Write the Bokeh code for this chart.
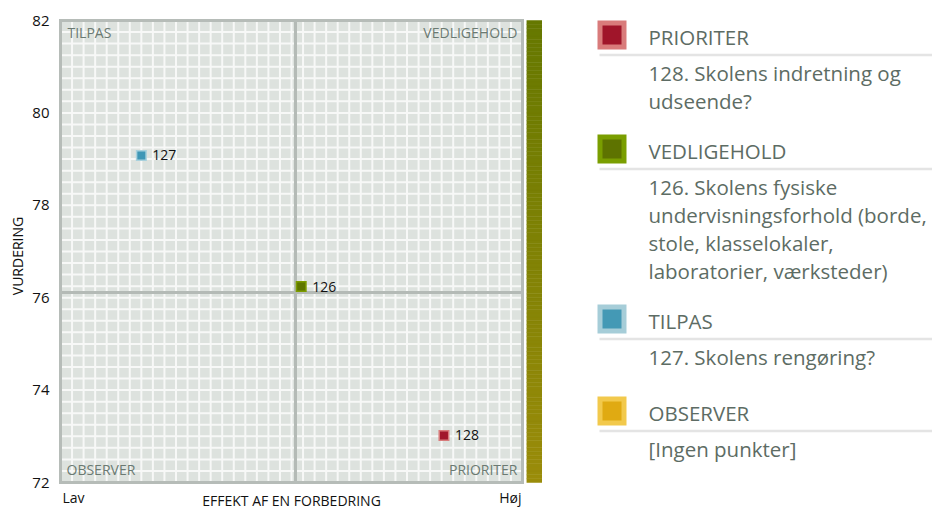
import numpy as np
from bokeh.plotting import figure
from bokeh.models import Range1d, FixedTicker, Label, ColumnDataSource
from bokeh.layouts import row
from bokeh.embed import file_html
from bokeh.resources import INLINE
from bokeh.core.properties import value

FONT = "Open Sans"

# ---------------- data ----------------
point_ids = ["126", "127", "128"]
effect = [52.1, 17.5, 83.0]          # EFFEKT AF EN FORBEDRING (Lav..Høj, 0..100)
rating = [76.24, 79.08, 73.02]       # VURDERING
point_fill = ["#5f7600", "#3f97b6", "#a1172b"]
point_line = ["#7d9c00", "#a8d1dd", "#d87c7c"]

x_min, x_max = 0, 100
y_min, y_max = 72, 82
y_ticks = [72, 74, 76, 78, 80, 82]
x_axis_ends = ["Lav", "Høj"]
x_title = "EFFEKT AF EN FORBEDRING"
y_title = "VURDERING"

quad_top = ["TILPAS", "VEDLIGEHOLD"]
quad_bottom = ["OBSERVER", "PRIORITER"]

legend_titles = ["PRIORITER", "VEDLIGEHOLD", "TILPAS", "OBSERVER"]
legend_desc = [
    ["128. Skolens indretning og", "udseende?"],
    ["126. Skolens fysiske", "undervisningsforhold (borde,", "stole, klasselokaler,",
     "laboratorier, værksteder)"],
    ["127. Skolens rengøring?"],
    ["[Ingen punkter]"],
]
legend_fill = ["#a0152a", "#5e7300", "#4499b5", "#e0aa12"]
legend_line = ["#d97b7b", "#7a9e00", "#a6cdd8", "#f2c94c"]

bar_top_rgb = (102, 120, 0)
bar_bottom_rgb = (154, 140, 10)

# ---------------- geometry (pixels) ----------------
H = 511
PLOT_W, PLOT_H = 462, 462          # plotting square in pixels
PAD_L, PAD_R = 4, 4                # frame padding around the square (px)
PAD_T, PAD_B = 20, 29
ppx = PLOT_W / (x_max - x_min)
ppy = PLOT_H / (y_max - y_min)
x_rng = Range1d(x_min - PAD_L / ppx, x_max + PAD_R / ppx)
y_rng = Range1d(y_min - PAD_B / ppy, y_max + PAD_T / ppy)

# ---------------- main plot ----------------
p = figure(width=56 + PAD_L + PLOT_W + PAD_R, height=H, x_range=x_rng, y_range=y_rng,
           x_axis_location=None, output_backend="svg", toolbar_location=None,
           min_border=0, min_border_left=56, min_border_right=0, min_border_top=0, min_border_bottom=0)
p.background_fill_color = "white"
p.border_fill_color = "white"
p.outline_line_color = None
p.grid.visible = False

ax = p.yaxis[0]
ax.ticker = FixedTicker(ticks=y_ticks)
ax.axis_line_color = None
ax.major_tick_line_color = None
ax.minor_tick_line_color = None
ax.major_tick_out = 0
ax.major_tick_in = 0
ax.minor_tick_out = 0
ax.major_label_text_font = FONT
ax.major_label_text_font_size = "15px"
ax.major_label_text_color = "#111111"
ax.major_label_standoff = 7
ax.axis_label = y_title
ax.axis_label_text_font = FONT
ax.axis_label_text_font_size = "14px"
ax.axis_label_text_font_style = "normal"
ax.axis_label_text_color = "#111111"
ax.axis_label_standoff = 2

# plot background square
p.quad(left=[x_min], right=[x_max], bottom=[y_min], top=[y_max], fill_color="#dde2de", line_color=None)
# fine grid (40 x 40 cells)
gx = np.linspace(x_min, x_max, 41)[1:-1]
gy = np.linspace(y_min, y_max, 41)[1:-1]
p.segment(x0=gx, x1=gx, y0=y_min, y1=y_max, line_color="#f7f8f7", line_width=2)
p.segment(x0=x_min, x1=x_max, y0=gy, y1=gy, line_color="#f7f8f7", line_width=2)
# mean cross lines
mx_, my_ = float(np.mean(effect)), float(np.mean(rating))
p.segment(x0=[mx_, x_min], x1=[mx_, x_max], y0=[y_min, my_], y1=[y_max, my_],
          line_color="#b4bab6", line_width=3)
# border
p.quad(left=[x_min], right=[x_max], bottom=[y_min], top=[y_max], fill_color=None,
       line_color="#b6bcb8", line_width=3, line_join="miter")

src = ColumnDataSource(dict(x=effect, y=rating, id=point_ids, fill=point_fill, line=point_line))
p.scatter("x", "y", source=src, marker="square", size=9.5, fill_color="fill",
          line_color="line", line_width=1.5, line_join="miter")
p.text("x", "y", text="id", source=src, x_offset=11, text_baseline="middle",
       text_font=value(FONT), text_font_size="14px", text_color="#111111")

qcol = "#6b7a72"
def lab(x, y, xo, yo, txt, align, col, size="14px"):
    p.add_layout(Label(x=x, y=y, x_offset=xo, y_offset=yo, text=txt, text_align=align,
                       text_baseline="middle", text_font=FONT, text_font_size=size, text_color=col))

lab(x_min, y_max, 7, -12, quad_top[0], "left", qcol)
lab(x_max, y_max, -5, -12, quad_top[1], "right", qcol)
lab(x_min, y_min, 6, 13, quad_bottom[0], "left", qcol)
lab(x_max, y_min, -5, 13, quad_bottom[1], "right", qcol)

lab(x_min, y_min, 2, -15, x_axis_ends[0], "left", "#111111")
lab(x_max, y_min, -1, -15, x_axis_ends[1], "right", "#111111")
lab((x_min + x_max) / 2, y_min, 0, -18, x_title, "center", "#111111")

# ---------------- gradient bar ----------------
b = figure(width=16, height=H, x_range=Range1d(0, 1), y_range=y_rng,
           x_axis_location=None, y_axis_location=None, output_backend="svg", toolbar_location=None,
           min_border=0)
b.grid.visible = False
b.outline_line_color = None
N = 120
edges = np.linspace(y_min, y_max, N + 1)
t = np.linspace(1, 0, N)  # 1 at bottom, 0 at top
cols = ["#%02x%02x%02x" % tuple(int(round(a + (c - a) * tt)) for a, c in zip(bar_top_rgb, bar_bottom_rgb))
        for tt in t]
b.quad(left=0, right=1, bottom=edges[:-1], top=edges[1:], fill_color=cols, line_color=cols, line_width=0.5)

# ---------------- legend ----------------
LW = 390
q = figure(width=LW, height=H, x_range=Range1d(0, LW), y_range=Range1d(H, 0),
           x_axis_location=None, y_axis_location=None, output_backend="svg", toolbar_location=None,
           min_border=0)
q.grid.visible = False
q.outline_line_color = None

mk_x, tx, sep_x0 = 69.5, 106, 57
line_h = 28
top = 20
mk_y, hd_y, sp_y = [], [], []
lines_y, lines_t = [], []
for desc in legend_desc:
    mk_y.append(top + 14.5)
    hd_y.append(top + 16.5)
    sp_y.append(top + 34.5)
    first = top + 52
    for i, s in enumerate(desc):
        lines_y.append(first + i * line_h)
        lines_t.append(s)
    top = top + max(52 + (len(desc) - 1) * line_h + 34, 92)

q.segment(x0=sep_x0, x1=LW, y0=sp_y, y1=sp_y, line_color="#e4e4e4", line_width=2.5)
q.scatter([mk_x] * 4, mk_y, marker="square", size=24, fill_color=legend_fill,
          line_color=legend_line, line_width=5, line_join="miter")
lcol = "#5d6c64"
q.text([tx] * 4, hd_y, text=legend_titles, text_baseline="middle", text_font=value(FONT),
       text_font_size="20.5px", text_color=lcol)
q.text([tx] * len(lines_t), lines_y, text=lines_t, text_baseline="middle", text_font=value(FONT),
       text_font_size="20.5px", text_color=lcol)

layout = row(p, b, q)
open("out.html", "w").write(file_html(layout, INLINE))
